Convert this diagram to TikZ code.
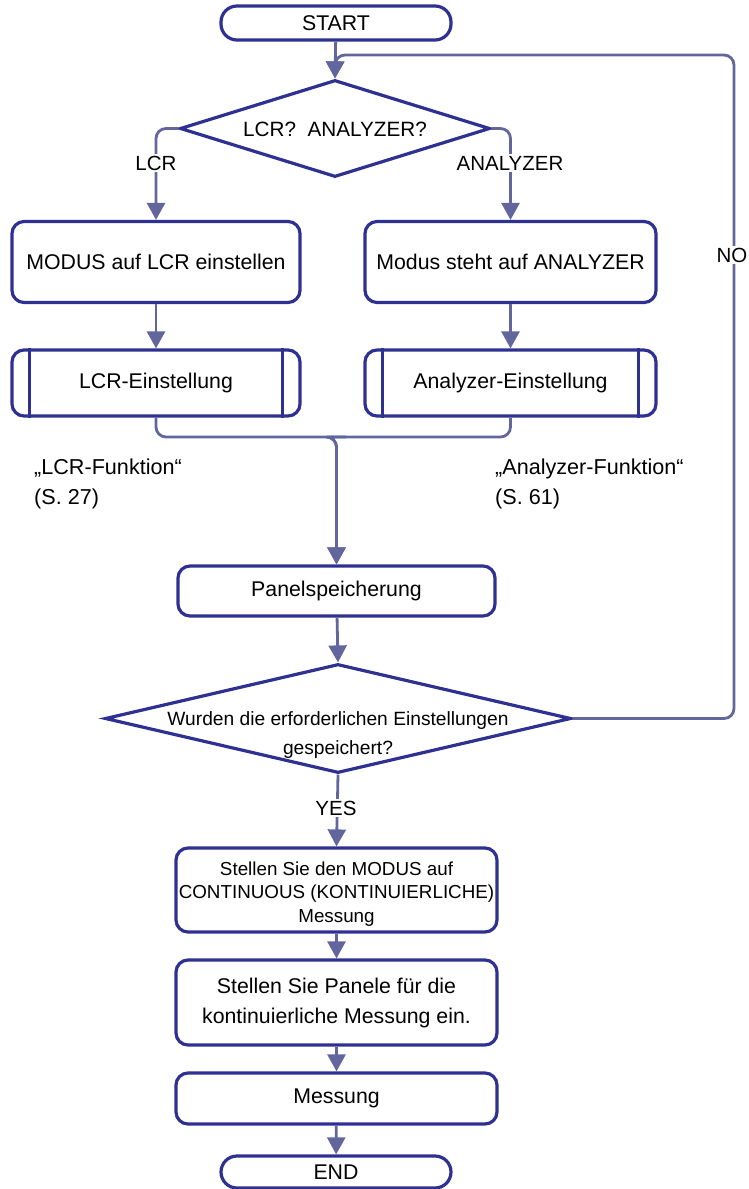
\documentclass[tikz,border=0pt]{standalone}
\usepackage{fontspec}
\setmainfont{Liberation Sans}
\usetikzlibrary{arrows.meta,shapes.geometric}
\definecolor{bord}{RGB}{46,49,146}
\definecolor{connc}{RGB}{98,102,156}
\begin{document}
\begin{tikzpicture}[x=1pt,y=-1pt,
 box/.style={draw=bord,line width=3.2pt,rounded corners=12pt,fill=white,inner sep=0pt,align=center,font=\fontsize{21.3}{30}\selectfont},
 term/.style={box,rounded corners=16pt},
 dia/.style={draw=bord,line width=3.2pt,diamond,inner sep=0pt},
 cline/.style={draw=connc,line width=2.8pt,rounded corners=10pt},
 arr/.style={cline,-{Triangle[length=17pt,width=18pt]}},
 lab/.style={fill=white,inner sep=2pt,font=\fontsize{20.5}{24}\selectfont},
 txt/.style={align=left,inner sep=0pt,font=\fontsize{21.6}{30}\selectfont}
]
\useasboundingbox (0,0) rectangle (748,1189);
% nodes
\node[term,minimum width=230pt,minimum height=34pt] (start) at (336,23) {START};
\node[dia,minimum width=310pt,minimum height=97pt] (d1) at (335,128.5) {};
\node[inner sep=0pt,font=\fontsize{20.7}{24}\selectfont] (t1) at (335,129) {LCR?\hspace{0.55em}ANALYZER?};
\node[box,minimum width=288pt,minimum height=81pt] (b1) at (156,262) {MODUS auf LCR einstellen};
\node[box,minimum width=291pt,minimum height=81pt] (b2) at (510.5,262) {Modus steht auf ANALYZER};
\node[box,minimum width=288pt,minimum height=66pt] (p1) at (156,383) {LCR-Einstellung};
\node[box,minimum width=291pt,minimum height=66pt] (p2) at (510.5,383) {Analyzer-Einstellung};
\draw[bord,line width=3.2pt] ([xshift=19pt]p1.north west) -- ([xshift=19pt]p1.south west);
\draw[bord,line width=3.2pt] ([xshift=-19pt]p1.north east) -- ([xshift=-19pt]p1.south east);
\draw[bord,line width=3.2pt] ([xshift=19pt]p2.north west) -- ([xshift=19pt]p2.south west);
\draw[bord,line width=3.2pt] ([xshift=-19pt]p2.north east) -- ([xshift=-19pt]p2.south east);
\node[txt,anchor=north west] (f1) at (34,459) {„LCR-Funktion“\\(S. 27)};
\node[txt,anchor=north west] (f2) at (495,459) {„Analyzer-Funktion“\\(S. 61)};
\node[box,minimum width=317pt,minimum height=50pt] (panel) at (336.5,591) {Panelspeicherung};
\node[dia,minimum width=466pt,minimum height=109pt] (d2) at (338,718.5) {};
\node[inner sep=0pt,align=center,font=\fontsize{19.2}{29}\selectfont] (t2) at (338,735) {Wurden die erforderlichen Einstellungen\\gespeichert?};
\node[box,minimum width=321pt,minimum height=84pt] (c1) at (336.5,890) {};
\node[inner sep=0pt,align=center,font=\fontsize{18.8}{23.5}\selectfont] (t3) at (336.5,894) {Stellen Sie den MODUS auf\\CONTINUOUS (KONTINUIERLICHE)\\Messung};
\node[box,minimum width=321pt,minimum height=85pt] (c2) at (336.5,1002.5) {Stellen Sie Panele für die\\kontinuierliche Messung ein.};
\node[box,minimum width=321pt,minimum height=51pt] (c3) at (336.5,1098.5) {Messung};
\node[term,minimum width=230pt,minimum height=32pt] (end) at (336,1172) {END};
% connectors
\coordinate (loopR) at (734,55);
\coordinate (m) at (336,437);
\draw[arr] (start) -- (d1.north);
\draw[arr] (d2.east) -| (loopR) -- (d1.north |- loopR) -- (d1.north);
\draw[arr] (d1.west) -| (b1.north);
\draw[arr] (d1.east) -| (b2.north);
\draw[arr] (b1) -- (p1);
\draw[arr] (b2) -- (p2);
\draw[arr] (p1.south) |- (m) -- (panel.north |- m) -- (panel.north);
\draw[arr] (p2.south) |- (m) -- (panel.north |- m) -- (panel.north);
\draw[arr] (panel) -- (d2.north);
\draw[arr] (d2.south) -- (c1.north);
\draw[arr] (c1) -- (c2);
\draw[arr] (c2) -- (c3);
\draw[arr] (c3) -- (end);
% connector labels
\node[lab] (lLCR) at (156,163) {LCR};
\node[lab] (lAN) at (510,163) {ANALYZER};
\node[lab] (lNO) at (732,255) {NO};
\node[lab] (lYES) at (336,808) {YES};
\end{tikzpicture}
\end{document}
